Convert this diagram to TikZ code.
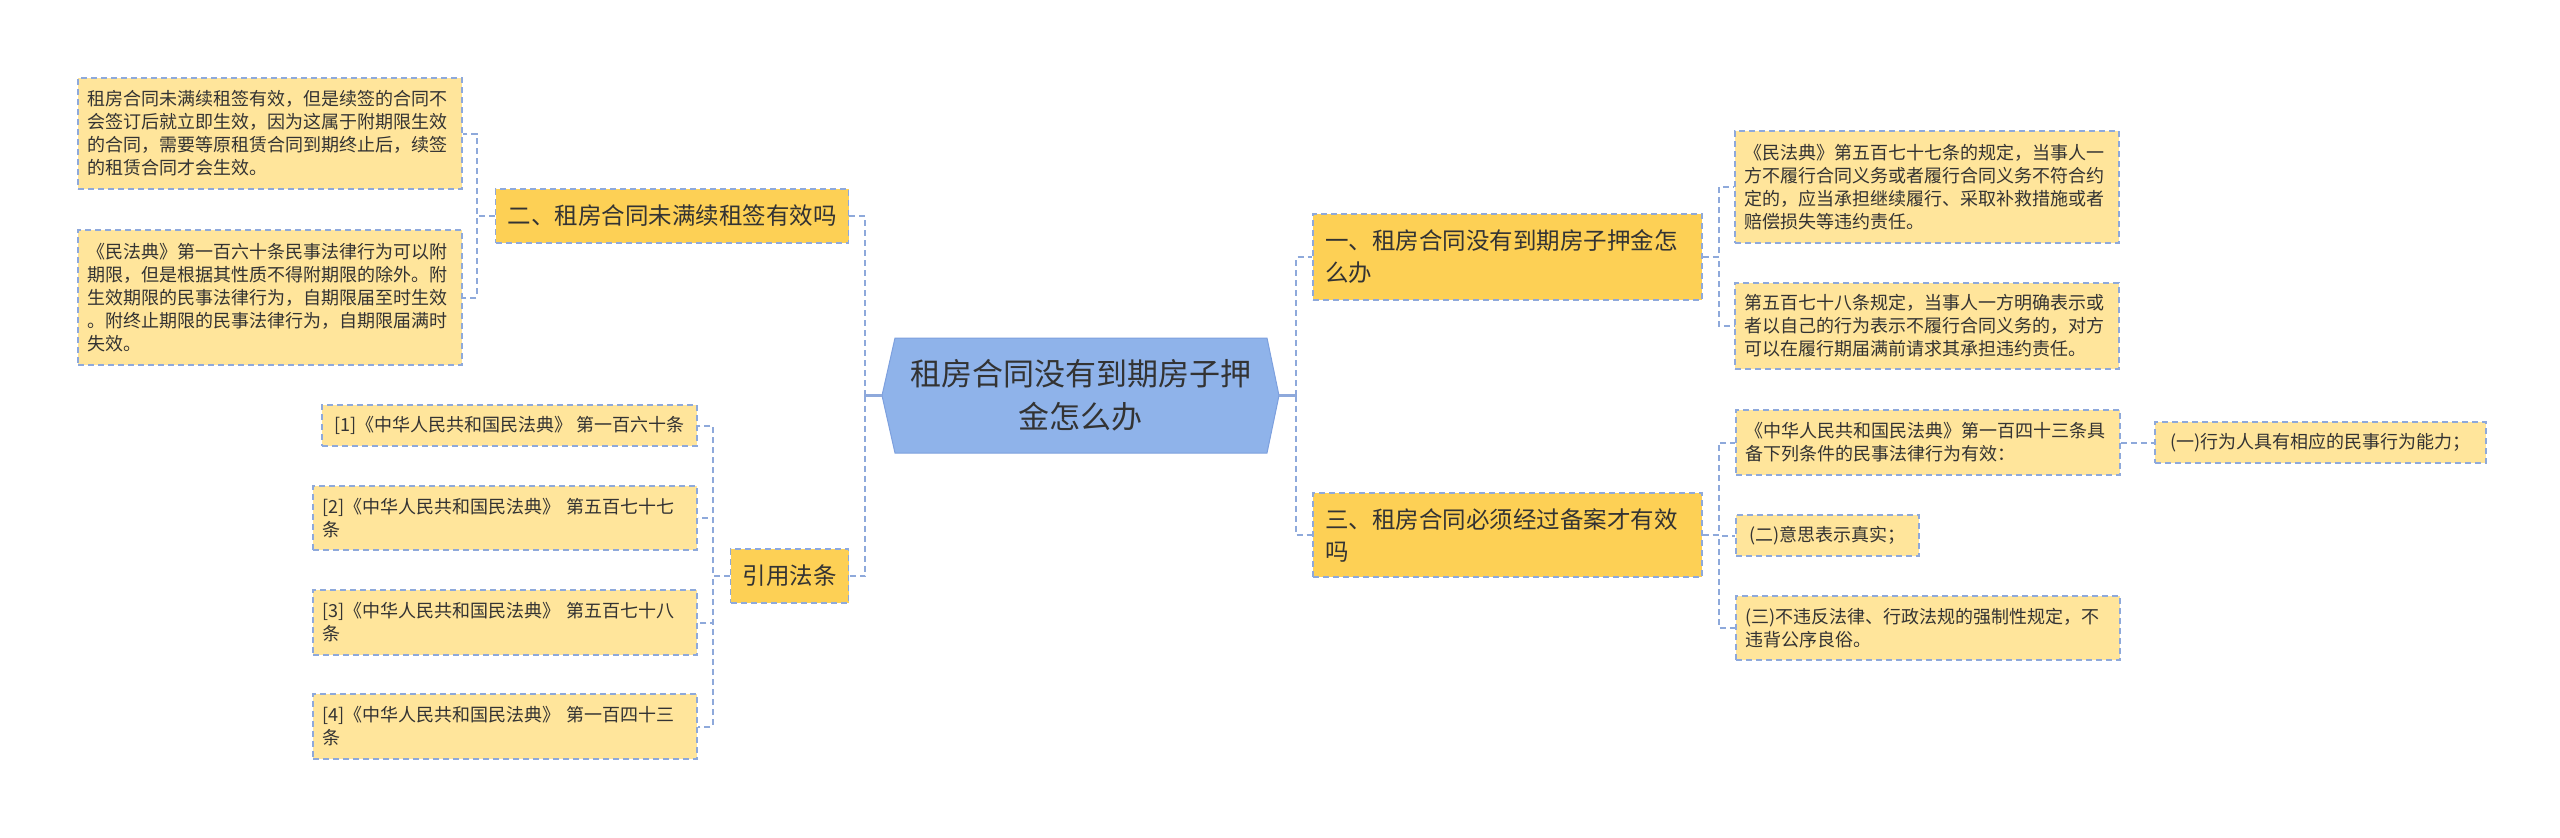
\documentclass[tikz,border=0pt]{standalone}
\usepackage{fontspec}
\setmainfont{Noto Sans CJK SC}
\usetikzlibrary{backgrounds}
\definecolor{linec}{RGB}{142,169,219}
\definecolor{rootc}{RGB}{143,179,234}
\definecolor{rootb}{RGB}{125,160,222}
\definecolor{goldc}{RGB}{253,208,85}
\definecolor{leafc}{RGB}{255,229,155}
\definecolor{txtc}{RGB}{51,51,51}
\tikzset{
  box/.style={draw=linec, line width=1.5pt, dash pattern=on 6pt off 4pt, inner xsep=9pt, inner ysep=0pt, text=txtc, align=left},
  leaf/.style={box, fill=leafc, font=\fontsize{18}{23}\selectfont},
  topic/.style={box, fill=goldc, font=\fontsize{23.5}{32}\selectfont, inner xsep=12pt},
  conn/.style={draw=linec, line width=2pt, dash pattern=on 6pt off 4pt},
  stub/.style={draw=linec, line width=3pt},
}
\begin{document}
\begin{tikzpicture}[x=1pt,y=1pt]
\useasboundingbox (0,0) rectangle (2560,-838);
% root
\node[text=txtc, align=center, outer sep=0pt, minimum width=397pt, minimum height=115pt, font=\fontsize{31}{43}\selectfont] (root) at (1080.5,-395.5) {租房合同没有到期房子押\\金怎么办};
\begin{scope}[on background layer]
\filldraw[fill=rootc, draw=rootb, line width=1pt] (root.west) -- ([xshift=13pt]root.north west) -- ([xshift=-12pt]root.north east) -- (root.east) -- ([xshift=-12pt]root.south east) -- ([xshift=13pt]root.south west) -- cycle;
\end{scope}
% left side
\node[topic, minimum width=352pt, minimum height=54pt] (B2) at (672,-216) {二、租房合同未满续租签有效吗};
\node[leaf, minimum width=384pt, minimum height=111pt, text width=366pt] (L1) at (270,-133.5) {租房合同未满续租签有效，但是续签的合同不\\会签订后就立即生效，因为这属于附期限生效\\的合同，需要等原租赁合同到期终止后，续签\\的租赁合同才会生效。};
\node[leaf, minimum width=384pt, minimum height=135pt, text width=366pt] (L2) at (270,-297.5) {《民法典》第一百六十条民事法律行为可以附\\期限，但是根据其性质不得附期限的除外。附\\生效期限的民事法律行为，自期限届至时生效\\。附终止期限的民事法律行为，自期限届满时\\失效。};
\node[topic, minimum width=117pt, minimum height=54pt] (Cite) at (789.5,-576) {引用法条};
\node[leaf, minimum width=375pt, minimum height=41pt] (Ref1) at (509.5,-425.5) {[1]《中华人民共和国民法典》 第一百六十条};
\node[leaf, minimum width=384pt, minimum height=64pt, text width=366pt] (Ref2) at (505,-518) {[2]《中华人民共和国民法典》 第五百七十七\\条};
\node[leaf, minimum width=384pt, minimum height=65pt, text width=366pt] (Ref3) at (505,-622.5) {[3]《中华人民共和国民法典》 第五百七十八\\条};
\node[leaf, minimum width=384pt, minimum height=65pt, text width=366pt] (Ref4) at (505,-726.5) {[4]《中华人民共和国民法典》 第一百四十三\\条};
% right side
\node[topic, minimum width=389pt, minimum height=86pt, text width=365pt] (B1) at (1507.5,-257) {一、租房合同没有到期房子押金怎\\么办};
\node[topic, minimum width=389pt, minimum height=84pt, text width=365pt] (B3) at (1507.5,-535) {三、租房合同必须经过备案才有效\\吗};
\node[leaf, minimum width=384pt, minimum height=112pt, text width=366pt] (R1) at (1927,-187) {《民法典》第五百七十七条的规定，当事人一\\方不履行合同义务或者履行合同义务不符合约\\定的，应当承担继续履行、采取补救措施或者\\赔偿损失等违约责任。};
\node[leaf, minimum width=384pt, minimum height=86pt, text width=366pt] (R2) at (1927,-326) {第五百七十八条规定，当事人一方明确表示或\\者以自己的行为表示不履行合同义务的，对方\\可以在履行期届满前请求其承担违约责任。};
\node[leaf, minimum width=384pt, minimum height=65pt, text width=366pt] (R3) at (1928,-442.5) {《中华人民共和国民法典》第一百四十三条具\\备下列条件的民事法律行为有效：};
\node[leaf, minimum width=331pt, minimum height=41pt] (R3a) at (2320.5,-442.5) {(一)行为人具有相应的民事行为能力；};
\node[leaf, minimum width=183pt, minimum height=41pt] (R4) at (1827.5,-535.5) {(二)意思表示真实；};
\node[leaf, minimum width=384pt, minimum height=64pt, text width=366pt] (R5) at (1928,-628) {(三)不违反法律、行政法规的强制性规定，不\\违背公序良俗。};
% connectors
\draw[stub] (root.west) -- ++(-17,0) coordinate (jl);
\draw[conn] (jl) |- (B2.east);
\draw[conn] (jl) |- (Cite.east);
\draw[stub] (root.east) -- ++(17,0) coordinate (jr);
\draw[conn] (jr) |- (B1.west);
\draw[conn] (jr) |- (B3.west);
\draw[conn] (B2.west) -- ++(-18,0) |- (L1.east);
\draw[conn] (B2.west) -- ++(-18,0) |- (L2.east);
\draw[conn] (Cite.west) -- ++(-17,0) |- (Ref1.east);
\draw[conn] (Cite.west) -- ++(-17,0) |- (Ref2.east);
\draw[conn] (Cite.west) -- ++(-17,0) |- (Ref3.east);
\draw[conn] (Cite.west) -- ++(-17,0) |- (Ref4.east);
\draw[conn] (B1.east) -- ++(16,0) |- (R1.west);
\draw[conn] (B1.east) -- ++(16,0) |- (R2.west);
\draw[conn] (B3.east) -- ++(16,0) |- (R3.west);
\draw[conn] (B3.east) -- ++(16,0) |- (R4.west);
\draw[conn] (B3.east) -- ++(16,0) |- (R5.west);
\draw[conn] (R3.east) -- (R3a.west);
\end{tikzpicture}
\end{document}
